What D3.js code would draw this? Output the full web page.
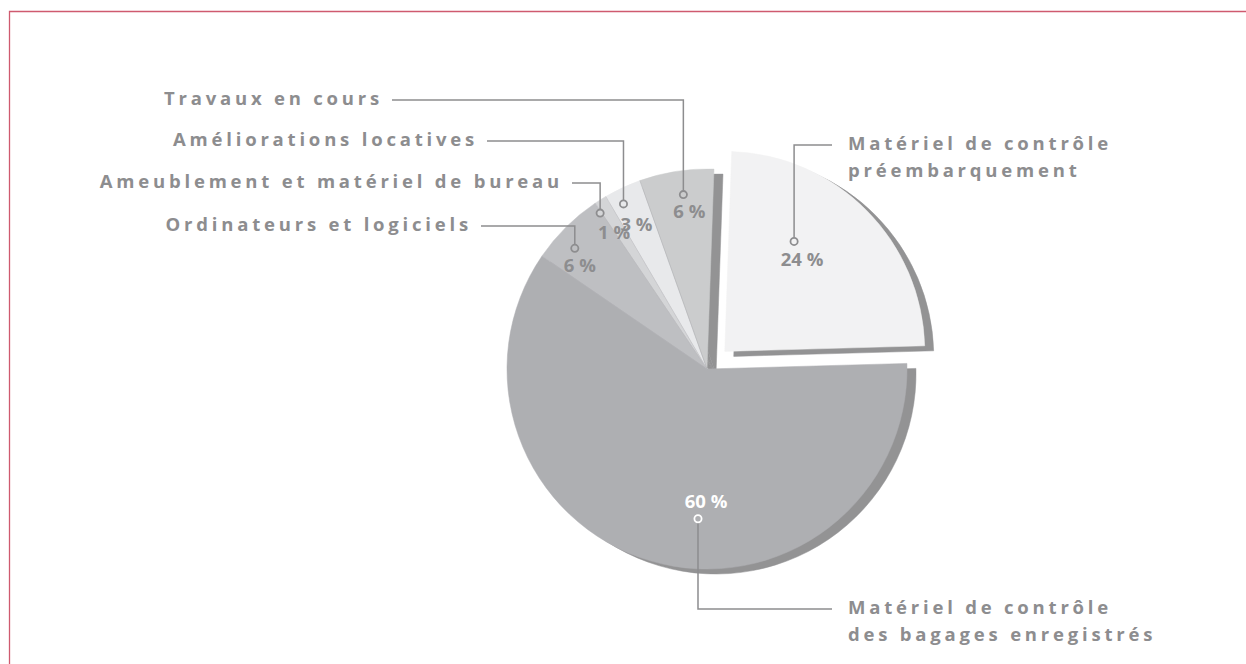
<!DOCTYPE html>
<html>
<head>
<meta charset="utf-8">
<title>Répartition des immobilisations</title>
<script src="https://d3js.org/d3.v7.min.js"></script>
<style>
  body { margin: 0; background: #fff; }
  #chart { width: 1246px; height: 664px; display: block; }
  .lbl { font-family: "Open Sans", sans-serif; font-weight: 700; font-size: 18.5px; fill: #8d8d8f; letter-spacing: 3.8px; }
  .pct { font-family: "Open Sans", sans-serif; font-weight: 700; font-size: 18.5px; fill: #8d8d8f; }
</style>
</head>
<body>
<svg id="chart"></svg>
<script>
// slices, clockwise from the top
const categories = [
  "Matériel de contrôle préembarquement",
  "Matériel de contrôle des bagages enregistrés",
  "Ordinateurs et logiciels",
  "Ameublement et matériel de bureau",
  "Améliorations locatives",
  "Travaux en cours"
];
const labelLines = [
  ["Matériel de contrôle", "préembarquement"],
  ["Matériel de contrôle", "des bagages enregistrés"],
  ["Ordinateurs et logiciels"],
  ["Ameublement et matériel de bureau"],
  ["Améliorations locatives"],
  ["Travaux en cours"]
];
const values = [24, 60, 6, 1, 3, 6];
const pctLabels = ["24 %", "60 %", "6 %", "1 %", "3 %", "6 %"];

const width = 1246, height = 664;
const cx = 707, cy = 369, R = 200;
const shadowDx = 9, shadowDy = 5;
const explodeIdx = 0, explodeDist = 25;

const color = d3.scaleOrdinal()
  .domain(categories)
  .range(["#f2f2f3", "#aeafb2", "#bebfc2", "#d4d5d7", "#e8e9eb", "#cbcccd"]);

// where the marker sits in each slice: [radius, fraction of slice angle]
const marker = [[130, 0.35], [150, 0.44], [179, 0.37], [189, -0.12], [185, 0.33], [176, 0.55]];
// centre of the percentage text relative to its marker
const pctShift = [[8, 18], [8, -17], [5, 17], [14, 19], [13, 21], [6, 17]];
// leader routing: y of the horizontal run, x where text starts (right) or ends (left), side
const leader = [
  {y: 145, x: 848, side: "right"},
  {y: 609, x: 848, side: "right"},
  {y: 226, x: 472, side: "left"},
  {y: 183, x: 563, side: "left"},
  {y: 141, x: 478, side: "left"},
  {y: 100, x: 383, side: "left"}
];

const svg = d3.select("#chart").attr("viewBox", `0 0 ${width} ${height}`);

// frame
svg.append("path")
  .attr("d", `M9.5,${height} V11.5 H${width}`)
  .attr("fill", "none")
  .attr("stroke", "#cf5a6f")
  .attr("stroke-width", 1.3);

const rot = 2 * Math.PI / 180;
const arcs = d3.pie().sort(null).value(d => d)
  .startAngle(rot).endAngle(2 * Math.PI + rot)(values);

const arc = d3.arc().innerRadius(0).outerRadius(R);

function offset(d, i) {
  if (i !== explodeIdx) return [0, 0];
  const a = (d.startAngle + d.endAngle) / 2;
  return [Math.sin(a) * explodeDist, -Math.cos(a) * explodeDist];
}

const g = svg.append("g").attr("transform", `translate(${cx},${cy})`);

// shadows
g.selectAll("path.shadow")
  .data(arcs)
  .join("path")
  .attr("class", "shadow")
  .attr("fill", "#939394")
  .attr("stroke", "#939394")
  .attr("stroke-width", 0.5)
  .attr("transform", (d, i) => { const o = offset(d, i); return `translate(${o[0] + shadowDx},${o[1] + shadowDy})`; })
  .attr("d", arc);

// slices
g.selectAll("path.slice")
  .data(arcs)
  .join("path")
  .attr("class", "slice")
  .attr("fill", (d, i) => color(categories[i]))
  .attr("stroke", (d, i) => color(categories[i]))
  .attr("stroke-width", 0.5)
  .attr("transform", (d, i) => { const o = offset(d, i); return `translate(${o[0]},${o[1]})`; })
  .attr("d", arc);

// thin separators like in the print version
g.selectAll("line.sep")
  .data(arcs.slice(2))
  .join("line")
  .attr("class", "sep")
  .attr("x1", 0).attr("y1", 0)
  .attr("x2", d => Math.sin(d.startAngle) * R)
  .attr("y2", d => -Math.cos(d.startAngle) * R)
  .attr("stroke", "#a9aaad")
  .attr("stroke-width", 0.4);

// marker positions in page coordinates
const pts = arcs.map((d, i) => {
  const [r, t] = marker[i];
  const a = d.startAngle + t * (d.endAngle - d.startAngle);
  const o = offset(d, i);
  return [cx + o[0] + Math.sin(a) * r, cy + o[1] - Math.cos(a) * r];
});

const ann = svg.append("g");

// leaders
ann.selectAll("path.leader")
  .data(arcs)
  .join("path")
  .attr("class", "leader")
  .attr("fill", "none")
  .attr("stroke", "#8d8d8f")
  .attr("stroke-width", 1.5)
  .attr("d", (d, i) => {
    const [px, py] = pts[i];
    const L = leader[i];
    const sy = L.y > py ? py + 4 : py - 4;
    const ex = L.side === "right" ? L.x - 16 : L.x + 9;
    return `M${px},${sy} V${L.y} H${ex}`;
  });

// markers
ann.selectAll("circle.mk")
  .data(arcs)
  .join("circle")
  .attr("class", "mk")
  .attr("cx", (d, i) => pts[i][0])
  .attr("cy", (d, i) => pts[i][1])
  .attr("r", 3.6)
  .attr("fill", (d, i) => color(categories[i]))
  .attr("stroke", (d, i) => i === 1 ? "#ffffff" : "#8d8d8f")
  .attr("stroke-width", 1.8);

// percentages
ann.selectAll("text.pct")
  .data(arcs)
  .join("text")
  .attr("class", "pct")
  .attr("x", (d, i) => pts[i][0] + pctShift[i][0])
  .attr("y", (d, i) => pts[i][1] + pctShift[i][1] + 6.5)
  .attr("text-anchor", "middle")
  .style("fill", (d, i) => i === 1 ? "#ffffff" : null)
  .text((d, i) => pctLabels[i]);

// category labels
const lbl = ann.selectAll("text.lbl")
  .data(arcs)
  .join("text")
  .attr("class", "lbl")
  .attr("x", (d, i) => leader[i].x)
  .attr("y", (d, i) => leader[i].y + 5)
  .attr("text-anchor", (d, i) => leader[i].side === "right" ? "start" : "end");

lbl.selectAll("tspan")
  .data((d, i) => labelLines[i].map(s => ({s, x: leader[i].x})))
  .join("tspan")
  .attr("x", t => t.x)
  .attr("dy", (t, j) => j === 0 ? 0 : 27)
  .text(t => t.s);
</script>
</body>
</html>
